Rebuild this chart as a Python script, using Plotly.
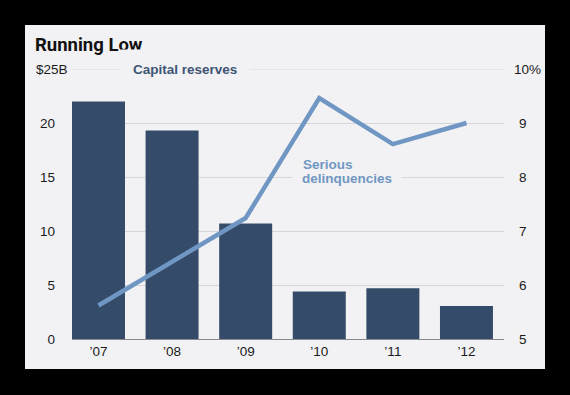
import plotly.graph_objects as go

years = ["’07", "’08", "’09", "’10", "’11", "’12"]
capital_reserves = [22.0, 19.3, 10.7, 4.4, 4.7, 3.05]   # $B
delinquencies = [5.62, 6.44, 7.24, 9.46, 8.61, 9.0]      # %
left_ticks = [0, 5, 10, 15, 20]
right_ticks = [5, 6, 7, 8, 9]

PANEL = "#f2f2f4"
BAR = "#344b69"
LINE = "#7097c3"
TICKF = "Liberation Sans, Arial, sans-serif"
BOLD = "Liberation Sans, Arial, Helvetica, sans-serif"

x = list(range(len(years)))

fig = go.Figure()
fig.add_trace(go.Bar(x=x, y=capital_reserves, marker=dict(color=BAR, line=dict(width=0)),
                     width=0.72, yaxis="y", showlegend=False, hoverinfo="skip"))
fig.add_trace(go.Scatter(x=x, y=delinquencies, mode="lines", line=dict(color=LINE, width=4.5),
                         yaxis="y2", showlegend=False, hoverinfo="skip"))

L, R, T, B = 72, 66, 69, 56
W, H = 570, 395
pw, ph = W - L - R, H - T - B

def px(v):
    return (v - L) / pw

def py(v):
    return (H - B - v) / ph

fig.add_shape(type="rect", xref="paper", yref="paper",
              x0=px(25), x1=px(545), y0=py(369), y1=py(25),
              fillcolor=PANEL, line=dict(width=0), layer="below")

fig.update_layout(
    width=W, height=H,
    margin=dict(l=L, r=R, t=T, b=B),
    paper_bgcolor="black",
    plot_bgcolor="rgba(0,0,0,0)",
    xaxis=dict(range=[-0.36, 5.51], tickmode="array", tickvals=x, ticktext=years,
               showgrid=False, zeroline=False, showline=True, linecolor="#8a8a8e",
               linewidth=1, ticks="", tickfont=dict(family=TICKF, size=13.5, color="#1a1a1a"),
               ticklabelstandoff=0, fixedrange=True),
    yaxis=dict(range=[0, 25], tickmode="array", tickvals=left_ticks,
               ticktext=[str(v) for v in left_ticks],
               showgrid=True, gridcolor="#d6d6da", gridwidth=1, zeroline=False,
               ticks="", tickfont=dict(family=TICKF, size=13.5, color="#1a1a1a"),
               ticklabelstandoff=16, showline=False, fixedrange=True),
    yaxis2=dict(range=[5, 10], overlaying="y", side="right", tickmode="array",
                tickvals=right_ticks, ticktext=[str(v) for v in right_ticks],
                showgrid=False, zeroline=False, ticks="",
                tickfont=dict(family=TICKF, size=13.5, color="#1a1a1a"),
                ticklabelstandoff=14, showline=False, fixedrange=True),
    bargap=0.28,
)

fig.add_shape(type="line", xref="paper", yref="y", x0=0, x1=1, y0=25, y1=25,
              line=dict(color="#d6d6da", width=1), layer="below")

fig.add_annotation(text="<b>Running Low</b>", xref="paper", yref="paper",
                   x=px(33), y=py(45), xanchor="left", yanchor="middle", showarrow=False,
                   font=dict(family="Roboto, Liberation Sans, sans-serif", size=18.5, color="#111111"))
fig.add_annotation(text="$25B", xref="paper", yref="y", x=px(34), y=25,
                   xanchor="left", yanchor="middle", showarrow=False,
                   font=dict(family=TICKF, size=13.5, color="#1a1a1a"))
fig.add_annotation(text="10%", xref="paper", yref="y", x=px(512), y=25,
                   xanchor="left", yanchor="middle", showarrow=False,
                   font=dict(family=TICKF, size=13.5, color="#1a1a1a"))
fig.add_annotation(text="<b>Capital reserves</b>", xref="paper", yref="y", x=px(185), y=25,
                   xanchor="center", yanchor="middle", showarrow=False,
                   bgcolor=PANEL, borderpad=12,
                   font=dict(family=BOLD, size=13.5, color="#3e5574"))
fig.add_annotation(text="<b>delinquencies</b>", xref="paper", yref="paper", x=px(292), y=py(178),
                   xanchor="left", yanchor="middle", align="left", showarrow=False,
                   bgcolor=PANEL, borderpad=9,
                   font=dict(family=BOLD, size=13.5, color=LINE))
fig.add_annotation(text="<b>Serious</b>", xref="paper", yref="paper", x=px(301), y=py(164),
                   xanchor="left", yanchor="middle", align="left", showarrow=False,
                   font=dict(family=BOLD, size=13.5, color=LINE))

fig.write_html("out.html", config={"displayModeBar": False, "staticPlot": True},
               post_script="document.body.style.margin='0';document.body.style.background='black';")
